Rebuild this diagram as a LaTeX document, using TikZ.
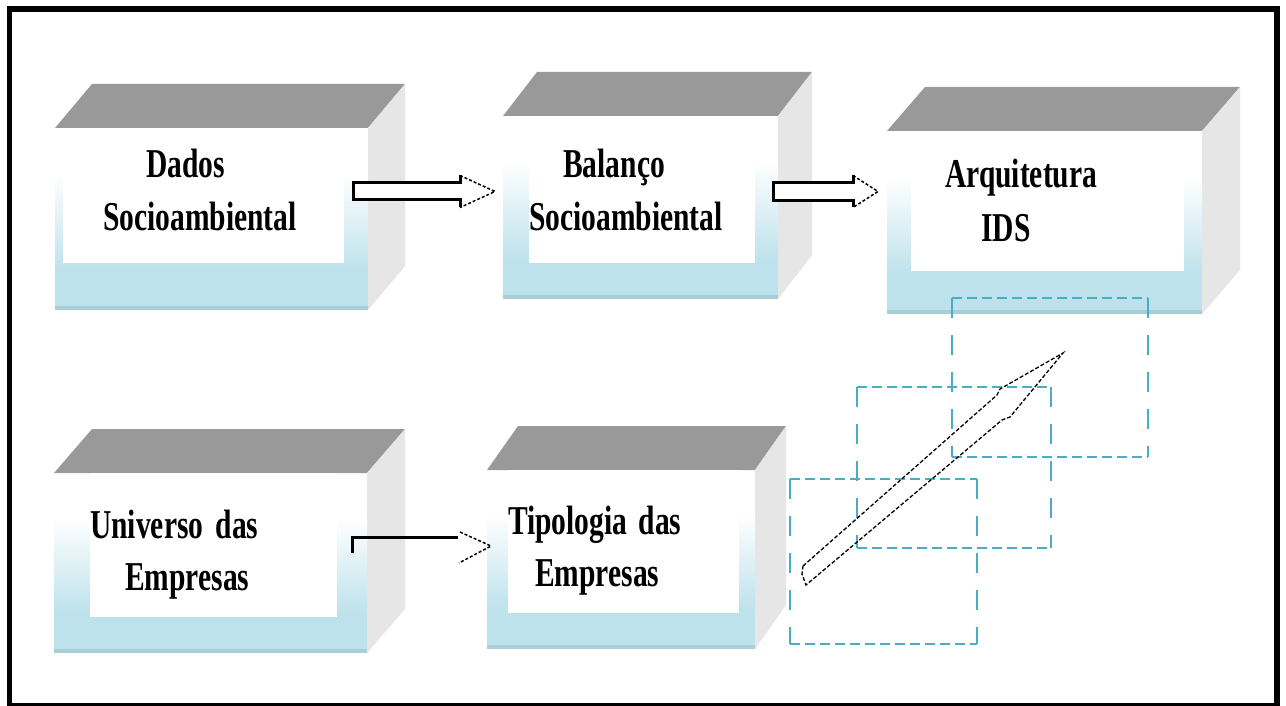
\documentclass[tikz,border=0pt]{standalone}
\usepackage{fontspec}
\newfontfamily\boxfont{Liberation Serif Bold}[FakeStretch=0.72]
\usetikzlibrary{calc}
\definecolor{topgray}{RGB}{153,153,153}
\definecolor{sidegray}{RGB}{230,230,230}
\definecolor{boxblue}{RGB}{190,226,236}
\definecolor{boxedge}{RGB}{170,206,216}
\definecolor{guideblue}{RGB}{75,172,198}

\begin{document}
\begin{tikzpicture}[x=1pt,y=-1pt,
front/.style={
    rectangle,
    anchor=north west,
    inner sep=0,
    outer sep=0,
    fill=white
    },
txt/.style={
    anchor=base west,
    inner sep=0,
    font=\boxfont\fontsize{41}{41}\selectfont
    },
shaft/.style={draw=black, line width=3pt},
tip/.style={draw=black, line width=1.5pt, dash pattern=on 3pt off 2pt},
guideh/.style={draw=guideblue, line width=2.5pt, dash pattern=on 10pt off 5pt},
guidev/.style={draw=guideblue, line width=2.2pt, dash pattern=on 20pt off 17pt}
]
\fill[white] (0,0) rectangle (1286,706);
\useasboundingbox (0,0) rectangle (1286,706);
\draw[line width=5.5pt] (9.5,9) rectangle (1277,705.5);

% boxes
\node(dados) [front,minimum width=313pt,minimum height=182pt] at (55,128) {};
\node(balanco) [front,minimum width=275pt,minimum height=183pt] at (503,116) {};
\node(arquit) [front,minimum width=315pt,minimum height=183pt] at (887,131) {};
\node(universo) [front,minimum width=313pt,minimum height=180pt] at (54,473) {};
\node(tipologia) [front,minimum width=268pt,minimum height=179pt] at (487,470) {};
\foreach \n/\d in {dados/37,balanco/34,arquit/38,universo/38,tipologia/31} {
  \fill[topgray] (\n.north west) -- ++(\d,-44) -- ($(\n.north east)+(\d,-44)$) -- (\n.north east) -- cycle;
  \fill[sidegray] (\n.north east) -- ++(\d,-44) -- ($(\n.south east)+(\d,-44)$) -- (\n.south east) -- cycle;
  \shade[top color=white,bottom color=boxblue] ($(\n.north west)!0.25!(\n.south west)$) rectangle ($(\n.north east)!0.78!(\n.south east)$);
  \fill[boxblue] ($(\n.north west)!0.78!(\n.south west)$) rectangle (\n.south east);
  \fill[boxedge] ($(\n.south west)+(0,-4)$) rectangle (\n.south east);
}
\fill[white] (63,128) rectangle (344,263);
\fill[white] (529,116) rectangle (755,263);
\fill[white] (911,131) rectangle (1184,271);
\fill[white] (90,473) rectangle (337,617);
\fill[white] (508,470) rectangle (739,613);

\node(dados1) [txt] at (146,178) {Dados};
\node(dados2) [txt] at (103,230) {Socioambiental};
\node(balanco1) [txt] at (563,178) {Balanço};
\node(balanco2) [txt] at (529,230) {Socioambiental};
\node(arquit1) [txt] at (945,188) {Arquitetura};
\node(arquit2) [txt] at (981,241) {IDS};
\node(universo1) [txt] at (90,538) {Universo\hspace{5pt} das};
\node(universo2) [txt] at (125,590) {Empresas};
\node(tipologia1) [txt] at (508,534) {Tipologia\hspace{4pt} das};
\node(tipologia2) [txt] at (535,586) {Empresas};

% arrows
\coordinate (a1) at (353,191.5);
\fill[white] (a1) ++(0,-8.5) -- ++(107,0) -- ++(0,-7.5) -- ++(35,16) -- ++(-35,16) -- ++(0,-7.5) -- ++(-107,0) -- cycle;
\draw[shaft] (a1) ++(107,-16) -- ++(0,7.5) -- ++(-107,0) -- ++(0,17) -- ++(107,0) -- ++(0,7.5);
\draw[tip] (a1) ++(107,-16) -- ++(35,16) -- ++(-35,16);

\coordinate (a2) at (773,191.5);
\fill[white] (a2) ++(0,-9) -- ++(80,0) -- ++(0,-7) -- ++(25,16) -- ++(-25,16) -- ++(0,-7) -- ++(-80,0) -- cycle;
\draw[shaft] (a2) ++(80,-16) -- ++(0,7) -- ++(-80,0) -- ++(0,18) -- ++(80,0) -- ++(0,7);
\draw[tip] (a2) ++(80,-16) -- ++(25,16) -- ++(-25,16);

\coordinate (a3) at (352,553);
\draw[shaft] (a3) -- ++(0,-16) -- ++(106,0);
\draw[tip] (a3) ++(108,-21) -- ++(31,14) -- ++(-32,17);

% dashed frames
\foreach \xa/\ya/\xb/\yb in {790/479/977/644,857/387/1051/548,952/298/1148/457} {
  \draw[guideh] (\xa,\ya) -- (\xb,\ya) (\xa,\yb) -- (\xb,\yb);
  \draw[guidev] (\xa,\ya) -- (\xa,\yb) (\xb,\ya) -- (\xb,\yb);
}

\coordinate (a4) at (803,566);
\draw[draw=black,line width=1.3pt,dash pattern=on 4pt off 2pt] (a4) -- ++(194,-171) -- ++(3,-6) -- ++(63,-36) -- ++(-53,64) -- ++(-8,3) -- ++(-196,165) -- ++(-4,-11) -- cycle;
\end{tikzpicture}
\end{document}
